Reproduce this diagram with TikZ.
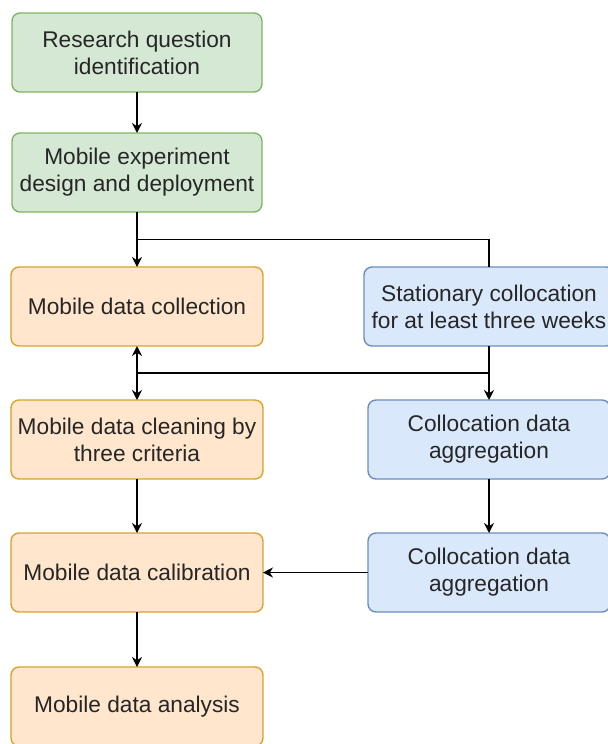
\documentclass[tikz,border=0pt]{standalone}
\usepackage{fontspec}
\setmainfont{Liberation Sans}
\usepackage{tikz}
\usetikzlibrary{shapes,arrows,arrows.meta,positioning,calc}
\definecolor{greenfill}{HTML}{D5E8D4}
\definecolor{greendraw}{HTML}{82B366}
\definecolor{orangefill}{HTML}{FFE6CC}
\definecolor{orangedraw}{HTML}{D6A52A}
\definecolor{bluefill}{HTML}{DAE8FC}
\definecolor{bluedraw}{HTML}{6C8EBF}
\tikzstyle{box} = [rectangle, rounded corners=4pt, minimum height=39.5pt, outer sep=0pt, text centered, align=center, line width=0.7pt, text=black!85, font=\fontsize{11.35}{13.5}\selectfont]
\tikzstyle{prep} = [box, minimum width=125pt, draw=greendraw, fill=greenfill]
\tikzstyle{mobile} = [box, minimum width=126pt, draw=orangedraw, fill=orangefill]
\tikzstyle{colloc} = [box, minimum width=121pt, draw=bluedraw, fill=bluefill]
\tikzstyle{arrow} = [thick,->,>={Stealth[length=5pt,width=5pt]}]
\tikzstyle{line} = [thick]

\begin{document}
\begin{tikzpicture}[node distance=27pt]
	\useasboundingbox (0,0) rectangle (303.5pt,-372pt);
					\node (quest) [prep] at (68.5pt,-26.25pt) {Research question\\identification};
					\node (design) [prep, below = 20.5pt of quest] {Mobile experiment\\design and deployment};
					\node (collect) [mobile, below = 27.5pt of design] {Mobile data collection};
					\node (station) [colloc, minimum width=125pt, right = 50.5pt of collect] {Stationary collocation\\for at least three weeks};
					\node (clean) [mobile, below = of collect] {Mobile data cleaning by\\three criteria};
					\node (aggr1) [colloc, below = of station] {Collocation data\\aggregation};
					\node (calib) [mobile, below = of clean] {Mobile data calibration};
					\node (aggr2) [colloc, below = of aggr1] {Collocation data\\aggregation};
					\node (analysis) [mobile, below = 27.5pt of calib] {Mobile data analysis};
					\coordinate (split) at ($(design.south)!0.5!(collect.north)$);
					\coordinate (merge) at ($(collect.south)!0.5!(clean.north)$);

					\draw [arrow] (quest) -- (design);
					\draw [arrow] (design) -- (collect);
					\draw [line] (split) -| (station.north);
					\draw [arrow] (station) -- (aggr1);
					\draw [line] (station.south |- merge) -- (merge);
					\draw [arrow] (merge) -- (collect);
					\draw [arrow] (merge) -- (clean);
					\draw [arrow] (clean) -- (calib);
					\draw [arrow] (aggr1) -- (aggr2);
					\draw [arrow] (aggr2) -- (calib);
					\draw [arrow] (calib) -- (analysis);
			\end{tikzpicture}
\end{document}
